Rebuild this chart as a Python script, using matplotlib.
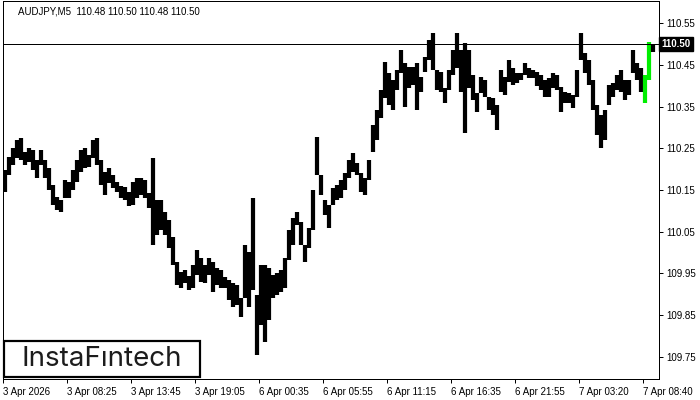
import matplotlib
matplotlib.use('Agg')
import matplotlib.pyplot as plt
import numpy as np
from matplotlib.patches import Rectangle
from matplotlib.transforms import blended_transform_factory

# ---------------- data ----------------
symbol = 'AUDJPY,M5'
last_ohlc = [110.48, 110.50, 110.48, 110.50]
current_price = 110.50

highs = [110.198, 110.229, 110.251, 110.270, 110.275, 110.241, 110.251, 110.246, 110.222, 110.246,
         110.222, 110.203, 110.162, 110.133, 110.126, 110.174, 110.169, 110.198, 110.222, 110.246,
         110.251, 110.234, 110.270, 110.275, 110.222, 110.193, 110.203, 110.186, 110.169, 110.160,
         110.157, 110.145, 110.169, 110.179, 110.179, 110.174, 110.143, 110.227, 110.126, 110.126,
         110.097, 110.078, 110.037, 109.978, 109.954, 109.958, 109.944, 109.970, 110.006, 109.987,
         109.970, 109.987, 109.978, 109.963, 109.958, 109.942, 109.934, 109.927, 109.922, 109.891,
         110.018, 110.001, 110.131, 109.898, 109.970, 109.970, 109.963, 109.946, 109.951, 109.958,
         109.987, 110.054, 110.083, 110.097, 110.073, 110.018, 110.059, 110.150, 110.277, 110.186,
         110.126, 110.114, 110.155, 110.162, 110.174, 110.191, 110.222, 110.239, 110.215, 110.191,
         110.179, 110.222, 110.306, 110.342, 110.389, 110.457, 110.430, 110.413, 110.437, 110.485,
         110.454, 110.445, 110.445, 110.454, 110.421, 110.469, 110.509, 110.526, 110.437, 110.433,
         110.394, 110.437, 110.485, 110.526, 110.485, 110.502, 110.485, 110.425, 110.382, 110.421,
         110.413, 110.373, 110.370, 110.354, 110.437, 110.421, 110.461, 110.442, 110.430, 110.430,
         110.454, 110.442, 110.437, 110.433, 110.425, 110.413, 110.418, 110.430, 110.425, 110.397,
         110.385, 110.382, 110.377, 110.437, 110.526, 110.478, 110.461, 110.413, 110.354, 110.330,
         110.342, 110.401, 110.406, 110.425, 110.437, 110.413, 110.413, 110.485, 110.454, 110.442,
         110.425, 110.504, 110.500]

lows = [110.145, 110.186, 110.210, 110.227, 110.222, 110.210, 110.217, 110.198, 110.179, 110.210,
        110.179, 110.150, 110.114, 110.102, 110.097, 110.131, 110.131, 110.150, 110.169, 110.193,
        110.203, 110.205, 110.227, 110.210, 110.162, 110.138, 110.167, 110.155, 110.145, 110.131,
        110.126, 110.112, 110.114, 110.131, 110.138, 110.131, 110.107, 110.018, 110.042, 110.054,
        110.042, 110.011, 109.970, 109.922, 109.915, 109.927, 109.910, 109.915, 109.946, 109.930,
        109.927, 109.946, 109.906, 109.922, 109.915, 109.915, 109.886, 109.870, 109.875, 109.846,
        109.891, 109.870, 109.910, 109.755, 109.827, 109.786, 109.839, 109.891, 109.898, 109.906,
        109.915, 109.982, 110.018, 110.066, 110.018, 109.978, 110.011, 110.054, 110.186, 110.138,
        110.090, 110.059, 110.114, 110.126, 110.131, 110.150, 110.179, 110.193, 110.186, 110.145,
        110.138, 110.174, 110.241, 110.270, 110.322, 110.370, 110.354, 110.342, 110.389, 110.430,
        110.349, 110.394, 110.401, 110.342, 110.385, 110.433, 110.461, 110.437, 110.389, 110.385,
        110.358, 110.389, 110.425, 110.442, 110.385, 110.287, 110.394, 110.366, 110.337, 110.382,
        110.373, 110.342, 110.330, 110.294, 110.385, 110.377, 110.409, 110.401, 110.406, 110.413,
        110.425, 110.418, 110.418, 110.399, 110.389, 110.373, 110.373, 110.394, 110.389, 110.337,
        110.358, 110.358, 110.346, 110.373, 110.461, 110.430, 110.401, 110.342, 110.282, 110.251,
        110.270, 110.354, 110.373, 110.389, 110.385, 110.366, 110.377, 110.430, 110.413, 110.385,
        110.358, 110.413, 110.480]

highlight_bars = [160, 161]   # bars drawn in green

time_labels = ['3 Apr 2026', '3 Apr 08:25', '3 Apr 13:45', '3 Apr 19:05', '6 Apr 00:35',
               '6 Apr 05:55', '6 Apr 11:15', '6 Apr 16:35', '6 Apr 21:55', '7 Apr 03:20',
               '7 Apr 08:40']
time_label_bar = [0, 64, 128, 192, 256, 320, 384, 448, 512, 576, 640]   # M5 bar index of each label
price_ticks = [110.55, 110.45, 110.35, 110.25, 110.15, 110.05, 109.95, 109.85, 109.75]

# ---------------- drawing ----------------
plt.rcParams['font.family'] = ['Liberation Sans', 'DejaVu Sans']
PX = 72 / 100.0  # points per pixel at dpi 100

fig = plt.figure(figsize=(7, 4), dpi=100)
fig.patch.set_facecolor('white')
ax = fig.add_axes([3 / 700, 21 / 400, 656 / 700, 378 / 400])
ax.set_facecolor('white')

step = 4  # M5 bars per drawn sample
n = len(highs)
xpos = np.arange(n) * step + step / 2 - 0.5
colors = ['#00ee00' if i in highlight_bars else 'black' for i in range(n)]
ax.vlines(xpos, lows, highs, colors=colors, linewidth=4.2 * PX, antialiased=True)

ax.axhline(current_price, color='black', linewidth=1 * PX)

ax.set_xlim(0, 656)
ax.set_ylim(109.697, 110.603)

for s in ax.spines.values():
    s.set_color('black')
    s.set_linewidth(1 * PX)

ax.yaxis.tick_right()
ax.set_yticks(price_ticks)
ax.set_yticklabels([f'{p:.2f}' for p in price_ticks])
ax.set_xticks(time_label_bar)
ax.set_xticklabels(time_labels, ha='left')
ax.tick_params(axis='y', which='both', direction='out', length=3 * PX * 1.4, width=1 * PX,
               pad=2, labelsize=7, colors='black', left=False, right=True)
ax.tick_params(axis='x', which='both', direction='out', length=3 * PX * 1.4, width=1 * PX,
               pad=3, labelsize=7, colors='black', top=False, bottom=True)

# header
ax.text(15 / 656, 0.972, f'{symbol}  ' + ' '.join(f'{v:.2f}' for v in last_ohlc),
        transform=ax.transAxes, fontsize=7, va='center', ha='left', color='black')

# current price label on the axis
tr = blended_transform_factory(ax.transAxes, ax.transData)
ax.text(1.004, current_price, f'{current_price:.2f}', transform=tr, fontsize=7,
        color='white', fontweight='bold', va='center', ha='left',
        bbox=dict(boxstyle='square,pad=0.25', facecolor='black', edgecolor='black'),
        clip_on=False)

# logo box
fig.patches.append(Rectangle((4 / 700, 23 / 400), 196 / 700, 36 / 400, transform=fig.transFigure,
                             facecolor='white', edgecolor='black', linewidth=2.2 * PX, zorder=5))
fig.text(102 / 700, 41 / 400, 'InstaFıntech', fontsize=20, family=['Inter', 'DejaVu Sans'],
         color='#1c1c1c', ha='center', va='center', zorder=6)

fig.savefig('out.png', dpi=100, facecolor='white')
